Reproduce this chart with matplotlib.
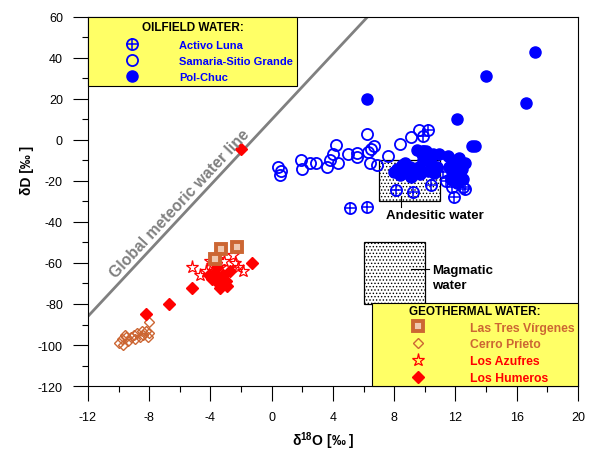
import matplotlib
matplotlib.use("Agg")
import matplotlib.pyplot as plt
from matplotlib.lines import Line2D
from matplotlib.patches import Rectangle
import numpy as np

plt.rcParams['font.family'] = ['Liberation Sans', 'DejaVu Sans']
plt.rcParams['mathtext.fontset'] = 'custom'
plt.rcParams['mathtext.rm'] = 'Liberation Sans'
plt.rcParams['mathtext.bf'] = 'Liberation Sans:bold'
plt.rcParams['hatch.linewidth'] = 0.6
plt.rcParams['axes.unicode_minus'] = False

# ---------------- data ----------------
# Oilfield water
luna_x = [5.1, 6.2, 8.1, 9.2, 10.2, 9.9, 10.4, 11.2, 11.35, 11.8, 12.5, 11.9, 12.6]
luna_y = [-33, -32.5, -24.5, -25.5, 4.7, 1.8, -22, -15.5, -20, -22.7, -22.7, -28, -24]

samaria_x = [0.4, 0.6, 0.55, 1.9, 2.0, 2.5, 2.9, 3.6, 3.8, 4.3, 4.0, 4.2, 5.0, 5.6, 5.6,
             6.2, 6.3, 6.5, 6.7, 6.4, 6.9, 7.6, 8.4, 9.1, 9.6, 9.9]
samaria_y = [-13, -15, -17, -10, -14, -11, -11, -13, -10, -11, -7, -2.5, -7, -6.5, -8.5,
             3, -6, -4.5, -3, -11, -12, -8, -2, 1.5, 4.7, -5.5]

polchuc_x = [6.2, 14.0, 17.2, 16.6, 12.1, 13.05, 13.3,
             8.2, 8.5, 8.8, 9.0, 8.4, 9.3, 8.0, 8.7, 9.1,
             9.5, 9.8, 10.1, 10.5, 10.9, 9.9, 10.4, 10.8, 10.2, 9.6, 10.6, 9.7,
             11.5, 11.8, 12.2, 12.6, 11.6, 12.0, 12.4, 11.8, 12.3, 11.7, 12.1, 12.5]
polchuc_y = [20, 31, 43, 18, 10, -3, -3,
             -14, -12, -16, -13, -17, -15, -15.5, -11, -18,
             -5, -7, -5.5, -7, -7, -10, -11, -13, -15, -13, -16, -16.5,
             -8, -10, -9, -11, -13, -12, -14, -16, -17, -19, -21, -19]

# Geothermal water
tres_x = [-3.3, -2.3, -3.7]
tres_y = [-53, -52, -58]

cerro_x = [-10.0, -9.8, -9.6, -9.4, -9.2, -9.0, -8.8, -8.6, -8.4, -8.2, -8.1, -8.0,
           -9.7, -9.5, -8.9, -8.5, -8.0]
cerro_y = [-99, -97, -95, -98, -96, -95, -94, -96, -95, -93, -96, -94,
           -100, -96, -97, -93, -89]

azufres_x = [-5.2, -4.7, -4.05, -2.5, -2.2, -1.9, -4.3, -3.9, -3.1, -3.4, -2.4, -3.6]
azufres_y = [-62, -66, -59, -56, -62, -64, -64, -61, -59, -62, -60, -58]

humeros_x = [-8.2, -6.7, -5.2, -1.3, -2.0, -3.9, -3.5, -3.0, -3.7, -3.2, -4.1, -2.9, -3.4, -2.7, -3.6]
humeros_y = [-85, -80, -72, -60, -4.5, -68, -70, -69, -65, -66, -66, -71, -72, -64, -62]

# Global meteoric water line endpoints (dD = 8 d18O + 10)
gmwl_x = [-12, 6.25]
gmwl_y = [-86, 60]

# reference boxes
andesitic = (7, -30, 4, 20)   # x, y, width, height
magmatic = (6, -80, 4, 30)

BLUE = '#0000FF'
RED = '#FF0000'
ORANGE = '#CC6633'
YELLOW = '#FFFF66'
GRAY = '#808080'

fig = plt.figure(figsize=(5.89, 4.52), dpi=100)
ax = fig.add_axes([0.1494, 0.1438, 0.8319, 0.8164])
ax.set_xlim(-12, 20)
ax.set_ylim(-120, 60)

# boxes
for (bx, by, bw, bh) in (andesitic, magmatic):
    ax.add_patch(Rectangle((bx, by), bw, bh, facecolor='white', edgecolor='black',
                           hatch='.....', linewidth=0.9, zorder=1))

# GMWL
ax.plot(gmwl_x, gmwl_y, color=GRAY, linewidth=2.0, zorder=2, solid_capstyle='butt')

# data
ms = 8
ax.plot(samaria_x, samaria_y, 'o', ms=ms, mfc='none', mec=BLUE, mew=1.3, zorder=3)
ax.plot(luna_x, luna_y, 'o', ms=ms, mfc='none', mec=BLUE, mew=1.3, zorder=3)
ax.plot(luna_x, luna_y, '+', ms=ms, mec=BLUE, mew=1.1, zorder=3)
ax.plot(polchuc_x, polchuc_y, 'o', ms=ms, mfc=BLUE, mec=BLUE, zorder=4)

ax.plot(cerro_x, cerro_y, 'D', ms=5.5, mfc='none', mec=ORANGE, mew=1.0, zorder=3)
ax.plot(humeros_x, humeros_y, 'D', ms=6.5, mfc=RED, mec=RED, zorder=3)
ax.plot(azufres_x, azufres_y, '*', ms=9.5, mfc='none', mec=RED, mew=0.9, zorder=4)
ax.plot(tres_x, tres_y, 's', ms=7.5, mfc='#F0C8B0', mec=ORANGE, mew=2.8, zorder=4)

# text labels
ax.text(7.45, -36.5, 'Andesitic water', fontsize=9.5, fontweight='bold', ha='left', va='center')
ax.plot([8.43, 8.43], [-27.6, -32.5], color='black', lw=0.8)
ax.text(10.5, -67.2, 'Magmatic\nwater', fontsize=9.5, fontweight='bold', ha='left', va='center',
        linespacing=1.3)
ax.plot([9.1, 10.25], [-62.8, -62.8], color='black', lw=0.8)

# GMWL label
fig.canvas.draw()
p1 = ax.transData.transform((gmwl_x[0], gmwl_y[0]))
p2 = ax.transData.transform((gmwl_x[1], gmwl_y[1]))
ang = np.degrees(np.arctan2(p2[1] - p1[1], p2[0] - p1[0]))
x0 = -5.5
y0 = 8 * x0 + 10
nx, ny = -np.sin(np.radians(ang)), np.cos(np.radians(ang))
ax.annotate('Global meteoric water line', xy=(x0, y0), xytext=(nx * 4.0, ny * 4.0),
            textcoords='offset points', rotation=ang, rotation_mode='anchor',
            ha='center', va='baseline', fontsize=11.3, fontweight='bold', color=GRAY)

# axes styling
ax.set_xticks(np.arange(-12, 21, 4))
ax.set_xticks(np.arange(-12, 21, 2), minor=True)
ax.set_yticks(np.arange(-120, 61, 20))
ax.set_yticks(np.arange(-120, 61, 10), minor=True)
ax.tick_params(which='major', direction='out', length=11, width=0.8, labelsize=9, pad=7)
ax.tick_params(which='minor', direction='out', length=4.5, width=0.8)
ax.tick_params(top=False, right=False, which='both')
for s in ax.spines.values():
    s.set_linewidth(0.8)

ax.set_xlabel(r'δ$^{\mathbf{18}}$O [‰ ]', fontsize=10, fontweight='bold')
ax.set_ylabel('δD [‰ ]', fontsize=10, fontweight='bold')
ax.xaxis.set_label_coords(0.48, -0.118)
ax.yaxis.set_label_coords(-0.11, 0.588)

# legends
fs = 8
h_luna = (Line2D([], [], ls='none', marker='o', ms=ms, mfc='none', mec=BLUE, mew=1.3),
          Line2D([], [], ls='none', marker='+', ms=ms, mec=BLUE, mew=1.1))
h_sam = Line2D([], [], ls='none', marker='o', ms=ms, mfc='none', mec=BLUE, mew=1.3)
h_pc = Line2D([], [], ls='none', marker='o', ms=ms, mfc=BLUE, mec=BLUE)
leg1 = ax.legend([h_luna, h_sam, h_pc], ['Activo Luna', 'Samaria-Sitio Grande', 'Pol-Chuc'],
                 loc='upper left', bbox_to_anchor=(0, 1), borderaxespad=0, fancybox=False,
                 framealpha=1, facecolor=YELLOW, edgecolor='black', fontsize=fs,
                 title='OILFIELD WATER:', title_fontproperties={'weight': 'bold', 'size': 8.5},
                 handlelength=7.1, handletextpad=0.7, borderpad=0.4, labelspacing=0.55,
                 numpoints=1)
leg1.get_frame().set_linewidth(0.8)
for t in leg1.get_texts():
    t.set_color(BLUE)
    t.set_fontweight('bold')
leg1.set_zorder(10)
ax.add_artist(leg1)

fs2 = 8.8
h_tres = Line2D([], [], ls='none', marker='s', ms=7.5, mfc='#F0C8B0', mec=ORANGE, mew=2.8)
h_cer = Line2D([], [], ls='none', marker='D', ms=5.5, mfc='none', mec=ORANGE, mew=1.0)
h_az = Line2D([], [], ls='none', marker='*', ms=9.5, mfc='none', mec=RED, mew=0.9)
h_hum = Line2D([], [], ls='none', marker='D', ms=6.5, mfc=RED, mec=RED)
leg2_x0 = (372 - 88) / 490
leg2 = ax.legend([h_tres, h_cer, h_az, h_hum],
                 ['Las Tres Vírgenes', 'Cerro Prieto', 'Los Azufres', 'Los Humeros'],
                 loc='lower left', bbox_to_anchor=(leg2_x0, 0, 1 - leg2_x0, 0.2),
                 mode='expand', borderaxespad=0, fancybox=False,
                 framealpha=1, facecolor=YELLOW, edgecolor='black', fontsize=fs2,
                 title='GEOTHERMAL WATER:', title_fontproperties={'weight': 'bold', 'size': 8.5},
                 handlelength=7.3, handletextpad=0.58, borderpad=0.15, labelspacing=0.4,
                 numpoints=1)
leg2.get_frame().set_linewidth(0.8)
for t, c in zip(leg2.get_texts(), [ORANGE, ORANGE, RED, RED]):
    t.set_color(c)
    t.set_fontweight('bold')
leg2.set_zorder(10)

fig.savefig('out.png', dpi=100)
